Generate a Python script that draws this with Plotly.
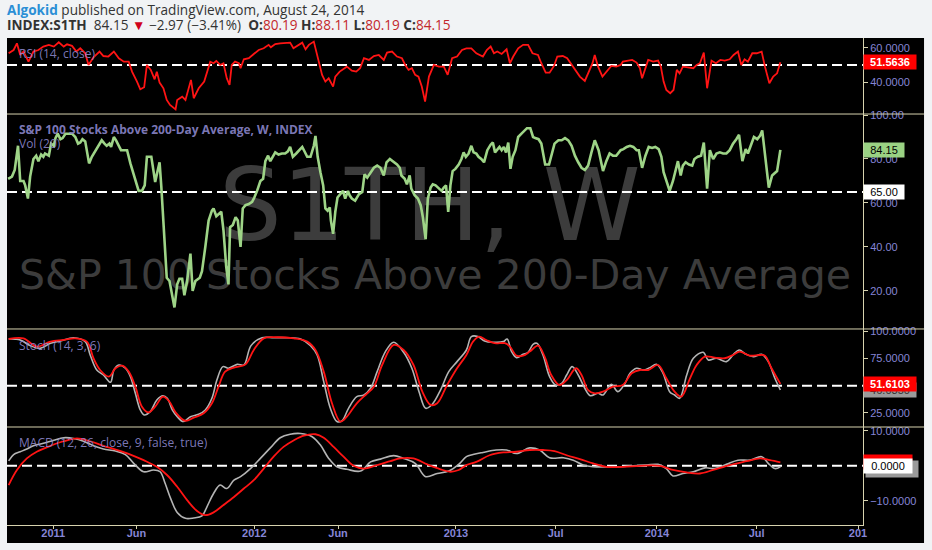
import pandas as pd
import plotly.graph_objects as go

# all x values are days counted from 2011-01-01 (weekly chart)
origin = pd.Timestamp("2011-01-01")

# S&P 100 stocks above 200-day average (S1TH, weekly)
main_days = [-82, -75, -70, -64, -60, -54, -51, -46, -42, -36, -31, -27, -22, -18, -15, -8, -4, 1, 4, 8,
             13, 17, 22, 28, 34, 40, 45, 49, 53, 58, 61, 65, 70, 75, 81, 88, 93, 97, 102, 105,
             110, 114, 119, 123, 130, 134, 140, 146, 151, 155, 161, 166, 170, 178, 182, 185, 188, 193, 196, 202,
             206, 211, 215, 220, 225, 229, 234, 238, 243, 249, 253, 258, 266,
             270, 276, 282, 288, 291, 296, 300, 305, 309, 314, 318, 321, 326, 331, 335, 340, 344, 349, 355, 361,
             365, 370, 376, 381, 385, 390, 394, 399, 403, 409, 415, 421, 426, 430, 435, 441, 447, 452, 456, 461,
             467, 473, 476, 480, 485, 490, 494, 498, 502, 504, 508, 512, 516, 521, 526, 530, 535, 538, 542, 548,
             555, 561, 565, 570, 576, 582, 588, 594, 600, 605, 611, 617, 624, 629,
             632, 638, 642, 647, 650, 656, 662, 667, 671, 676, 680, 685, 689, 694, 699, 705, 709, 713, 717, 721,
             725, 730, 736, 741, 745, 749, 754, 759, 763, 768, 772, 777, 782, 788, 794, 798, 802, 806, 810, 814,
             818, 822, 826, 830, 834, 839, 844, 850, 856, 860, 866, 871, 875, 881, 886, 890, 893, 900, 904, 910,
             917, 923, 929, 935, 941, 947, 953, 959, 965, 971, 977, 983,
             990, 998, 1004, 1010, 1016, 1022, 1030, 1035, 1041, 1047, 1053, 1059, 1063, 1069, 1075, 1081, 1087,
             1093, 1099, 1104, 1108, 1113, 1119, 1125, 1130, 1134, 1139, 1143, 1148, 1154, 1160, 1164, 1170, 1176,
             1181, 1187, 1192, 1198, 1204, 1210, 1216, 1222, 1228, 1234, 1240, 1245, 1251, 1257, 1261, 1266, 1272,
             1278, 1283, 1287, 1293, 1299, 1305, 1314, 1320]
main_vals = [71, 72, 75, 86, 70, 70, 68, 62, 72, 80, 81.5, 79, 82, 81, 82.5, 81.5, 87, 86, 89.5, 91.5,
             89, 89.5, 91.5, 91.5, 91.5, 90, 87, 87.5, 89, 88, 84, 78, 81, 83, 85.5, 88.5, 87, 86, 87, 85.5,
             90, 88.5, 86, 84, 84, 84, 78, 73, 69.5, 65.5, 65.5, 68, 81, 81, 74.5, 69.5, 73, 78.5, 68, 43,
             26, 24.5, 18.5, 12.5, 23, 25.5, 25.5, 18, 24.5, 37, 20, 24.5, 26,
             29, 40, 52, 56.5, 57.5, 54, 55, 56, 47.5, 31, 23, 49, 50, 53.5, 52, 40, 57.5, 59, 59.5, 60.5,
             62.5, 65.5, 70, 71, 79, 81.5, 79, 81.5, 83, 82, 82.5, 82.5, 83.5, 85.5, 81, 82.5, 84, 85.5, 83.5, 81,
             81, 86, 90.5, 81, 74, 68, 57.5, 56.5, 58, 52, 46, 56, 62.5, 64, 65.5, 62, 65.5, 63.5, 62, 61,
             64, 65, 73, 71.5, 74, 76, 77, 76, 72.5, 78.5, 80, 79, 77.5, 76,
             72.5, 71, 68.5, 72.5, 66.5, 63.5, 62, 59, 53.5, 43.5, 62, 67, 68.5, 68, 67, 65.5, 67, 68, 56, 68,
             74.5, 75.5, 77.5, 80, 83, 81, 82.5, 86, 83, 82.5, 81, 80, 78.5, 84, 86.5, 87.5, 83, 84.5, 85.5, 84,
             85.5, 83, 87.5, 75.5, 81, 84, 90, 91.5, 93, 94, 94, 90, 89.5, 89, 87, 81, 77.5, 77.5, 81.5, 87,
             88.5, 88.5, 89.5, 88.5, 86, 81.5, 78.5, 76, 75, 77, 83, 88.5,
             84, 74.5, 79, 82.5, 81.5, 81.5, 84, 84.5, 85.5, 86, 85.5, 84, 84, 76, 81.5, 85.5, 85,
             85.5, 84.5, 81, 74, 70, 65.5, 70, 75.5, 79, 72.5, 77, 78.5, 77.5, 77, 80, 81, 81.5,
             87.5, 66.5, 84, 80, 82.5, 83, 82.5, 82.5, 84, 87, 89, 91, 79, 84.5, 82.5, 86, 90,
             89, 90.5, 93, 79, 67, 72.5, 74.5, 84.15]

# RSI (14, close)
rsi_days = [-81, -72, -66, -60, -54, -45, -36, -27, -18, -8, 1, 10, 19, 25, 34, 42, 49, 58, 64, 73,
            84, 91, 100, 110, 119, 128, 137, 143, 152, 158, 165, 170, 177, 184, 188, 193, 200, 206, 212, 222,
            225, 234, 240, 250, 255, 264, 274, 280, 285, 291, 296, 303, 309, 315, 320, 324, 330, 337, 340, 346,
            355, 364, 373, 382, 391, 395, 403, 412, 421, 430, 436, 446, 452, 458, 464, 473, 478, 482, 488, 494,
            500, 508, 512, 520, 527, 533, 542, 550, 557, 564, 573, 582, 591, 600, 606, 615, 624, 633, 639, 645,
            651, 657, 663, 669, 675, 682, 691, 700, 709, 716, 724, 733, 742, 750,
            759, 768, 780, 787, 794, 800, 806, 814, 823, 829, 835, 844, 853, 862, 870, 880, 886, 894, 901, 909,
            915, 925, 933, 939, 947, 956, 965, 973, 979, 983, 989, 997, 1004, 1013, 1022, 1030, 1034, 1044, 1051,
            1059, 1065, 1069, 1074, 1080, 1089, 1098, 1103, 1108, 1113, 1120, 1126, 1132, 1137, 1143, 1152, 1162,
            1168, 1174, 1181, 1187, 1195, 1203, 1211, 1219, 1228, 1235, 1243, 1249, 1255, 1261, 1269, 1277, 1286,
            1292, 1300, 1307, 1314, 1320]
rsi_vals = [56.8, 58.7, 62.6, 55.8, 57.8, 51.9, 57.8, 58.7, 60.7, 61.7, 60.7, 63.2, 60.7, 62, 61.1, 57.8, 59.7, 56.8, 50, 54.5,
            57.8, 55.2, 54.9, 57.8, 53.9, 51.9, 51.9, 46.1, 40.3, 35.8, 37, 50, 47.1, 41.6, 46.1, 39.7, 36.4, 29.6, 26.7, 24.1,
            29.6, 31.5, 29.6, 41.3, 30.6, 36.4, 40.3, 47.1, 51.9, 51, 52.3, 50, 51, 42.2, 38.3, 50, 51.9, 51, 48.1, 53.3,
            53.9, 56.4, 58.7, 59.7, 61.7, 60.3, 62.2, 62.6, 62.6, 63, 59.7, 61.7, 63, 59.1, 61.7, 63.6, 56.8, 51, 44.2, 40.3,
            42.2, 37.4, 43.2, 46.1, 47.5, 49, 46.7, 46.1, 48.1, 53.9, 52.9, 55.2, 55.8, 52.9, 57.2, 57.8, 54.9, 53.9, 50, 47.1,
            48.1, 44.2, 43.2, 37.4, 28.6, 43.2, 50, 49, 49, 44.2, 53.9, 54.9, 58.7, 59.7,
            59.7, 56.8, 54.9, 58.7, 60.7, 56.8, 57.8, 56.4, 59.1, 51, 54.9, 59.7, 61.7, 61.7, 56.8, 55.8, 51, 45.5, 45.5, 49.4,
            54.9, 55.2, 53.9, 51, 47.1, 43.2, 40.7, 46.1, 51, 55.8, 49, 43.2, 46.1, 49.4, 49, 50, 51.9, 52.5, 52.9,
            51.4, 48.1, 42.2, 47.1, 52.9, 51.9, 52.5, 49, 40.3, 35.4, 33.5, 35.4, 47.1, 45.1, 49, 48.6, 48.1,
            50, 51, 57.2, 36.4, 52.5, 51, 52.9, 52.5, 53.3, 55.8, 57.8, 50, 53.3, 51.9, 56.8, 56.8, 57.8,
            49, 39.3, 43.2, 45.1, 51.5636]

# Stoch (14, 3, 6): %K (grey) and %D (red)
stoch_k_days = [-81, -60, -42, -24, -5, 13, 37, 58, 67, 79, 91, 104, 110, 119, 131, 140, 149, 158, 165, 176,
                188, 199, 207, 216, 225, 236, 249, 264, 276, 288, 297, 308, 318, 334, 346, 359, 379, 400, 424, 449,
                467, 479, 491, 503, 515, 524, 536, 551, 564, 576, 588, 603, 618, 636, 651, 664, 676, 688, 703, 718,
                733, 750, 759, 771, 783, 798, 817, 824, 832, 841, 853, 862, 871, 878, 889, 901, 912, 923, 932, 942,
                953, 965, 975, 989, 998, 1013, 1025, 1038, 1047, 1059, 1071, 1083, 1095, 1107, 1119, 1128, 1137,
                1150, 1162, 1180, 1189, 1204, 1222, 1234, 1245, 1258, 1271, 1286, 1298, 1310, 1320]
stoch_k_vals = [92.9, 92, 86.8, 84.3, 88.9, 91.1, 94.1, 90.5, 78.2, 64.4, 59.8, 53.1, 64.4, 69, 66, 58.3, 43, 27.7, 23.1, 26.1,
                36.9, 40.8, 38.4, 27.7, 21.5, 17, 21.5, 23.7, 27.7, 38.4, 55.2, 67.5, 66, 69.6, 69, 86.8, 94.1, 94.1, 94.1, 92.9,
                86.8, 78.2, 53.7, 29.2, 17, 17.6, 29.2, 39.9, 41.4, 47.6, 62.9, 81.3, 89.9, 80.7, 66, 44.5, 29.2, 32.9, 46, 62.9,
                72.1, 82.8, 95.1, 95.1, 91.1, 89.9, 90.5, 92.9, 81.3, 75.8, 78.8, 80.7, 88, 88.9, 78.2, 58.3, 50.6, 52.2, 59.8, 67.5,
                59.8, 47.6, 40.8, 43, 41.4, 51.3, 44.5, 52.2, 61.4, 66, 64.4, 66.6, 69.6, 61.4, 44.5, 41.4, 38.4,
                59.8, 75.2, 80.7, 73.6, 75.2, 72.1, 78.2, 82.8, 78.8, 76.7, 78.8, 72.1, 56.8, 46.035]
stoch_d_days = [-81, -54, -30, -5, 19, 40, 61, 73, 85, 101, 113, 125, 137, 149, 161, 173, 185, 199, 210, 222,
                240, 255, 273, 288, 300, 312, 328, 349, 364, 382, 406, 437, 461, 476, 491, 506, 521, 533, 551, 570,
                582, 597, 618, 636, 654, 670, 685, 697, 715, 733, 750, 762, 773, 786, 801, 820, 829, 841, 853, 865,
                880, 892, 904, 919, 932, 949, 959, 971, 983, 998, 1016, 1034, 1050, 1065, 1080, 1098, 1113, 1128,
                1140, 1156, 1168, 1183, 1201, 1219, 1234, 1246, 1264, 1283, 1292, 1304, 1320]
stoch_d_vals = [92.9, 93.5, 85.9, 90.5, 92, 93.5, 90.5, 75.2, 64.4, 58.3, 66, 68.4, 62.9, 49.1, 30.7, 25.5, 30.7, 39.9, 35.9, 25.5,
                17.6, 20.6, 24.6, 33.8, 49.1, 62.9, 66.6, 69.6, 82.8, 93.5, 94.5, 93.5, 90.5, 82.8, 62.9, 33.8, 17, 21.5, 33.8, 43,
                49.1, 69, 87.4, 82.8, 69, 44.5, 32.3, 33.8, 50.6, 66, 78.2, 90.5, 95.1, 92, 89, 89, 85.9, 77.6, 77.6, 81.3,
                86.8, 76.7, 59.8, 50.6, 55.2, 66, 59.8, 46, 43, 44.5, 49.1, 50.6, 61.4, 64.4, 64.4, 69, 56.8, 44.5,
                39.9, 56.8, 69, 76.7, 75.8, 75.2, 78.2, 81.3, 77.6, 78.2, 77.6, 66, 51.6103]

# MACD (12, 26, close, 9): macd line (grey) and signal (red)
macd_days = [-81, -72, -60, -48, -36, -18, 1, 19, 37, 55, 73, 91, 113, 131, 146, 164, 182, 194, 203, 213,
             225, 240, 255, 270, 279, 291, 303, 315, 328, 340, 358, 376, 394, 412, 430, 449, 470, 485, 500, 515,
             533, 558, 576, 594, 618, 636, 657, 676, 697, 718, 736, 750, 762, 780, 804, 823, 841, 865, 883, 901,
             926, 944, 962, 980, 998, 1022, 1053, 1077, 1098, 1113, 1125, 1143, 1162, 1183, 1201, 1222, 1243,
             1265, 1286, 1298, 1310, 1320]
macd_vals = [1.4, 3.2, 4, 4.8, 5.7, 6.4, 7.3, 8, 7.8, 7, 5.7, 4.8, 4.2, 3.2, 0.7, -1.7, -1.2, -1.7, -5, -9.3,
             -13.3, -15, -14.9, -14.3, -11.7, -7.9, -5.5, -6.5, -4.1, -3.1, -0.8, 2.1, 5.1, 8, 9, 9.2, 8.3, 5.9, 2.1, -0.3,
             -1, -1.5, 1.1, 1.9, 2.9, 2.1, 0.7, -3.1, -2.2, -1.5, 0.4, 2.6, 3.2, 3.8, 4.5, 4.5, 3.5, 5.1, 4.5, 2.3,
             2.3, 1.6, 0.2, -0.3, -0.3, -0.3, 0, 0.2, 0.4, -0.8, -2.9, -2.2, -1.7, -0.6, -0.8, 0.4, 1.6,
             1.6, 2.6, 0.7, -0.8, -0.3]
signal_days = [-81, -66, -48, -30, -5, 19, 43, 67, 91, 116, 140, 164, 188, 207, 225, 243, 261, 276, 291, 309,
               328, 346, 364, 382, 400, 418, 437, 455, 476, 491, 509, 527, 545, 564, 588, 612, 630, 654, 679, 703,
               721, 736, 750, 768, 792, 817, 841, 865, 889, 910, 932, 956, 980, 1004, 1035, 1065, 1101, 1125,
               1150, 1174, 1198, 1228, 1259, 1283, 1301, 1320]
signal_vals = [-5.5, -1.2, 2.1, 4, 5.7, 7, 7.8, 7, 5.7, 4.5, 3.2, 1.6, -0.3, -2.7, -6, -9.8, -12.9, -14.1, -13.3, -11.2,
               -8.9, -6.5, -4.1, -0.8, 2.6, 5.4, 7.3, 8.6, 9, 8, 5.4, 2.6, 0, -0.8, 0.2, 1.3, 2.1, 2.1, 0.4, -1,
               -1.7, -1.2, 0.2, 1.1, 3, 3.8, 4, 4.5, 4.5, 4.2, 3, 1.9, 0.7, -0.3, -0.3, 0, 0, -1.2,
               -1.9, -2.2, -1.2, 0.2, 1.3, 2.1, 1.6, 1]

# x axis ticks
tick_dates = ["2011-01-01", "2011-06-01", "2012-01-01", "2012-06-01", "2013-01-01",
              "2013-07-01", "2014-01-01", "2014-07-01", "2015-01-01"]
tick_text = ["2011", "Jun", "2012", "Jun", "2013", "Jul", "2014", "Jul", "201"]


def to_dates(days):
    return origin + pd.to_timedelta(days, unit="D")


beige = "#d6d2ae"
lav = "#8585d6"
axfont = dict(family="Liberation Sans, Arial", size=11, color=lav)

fig = go.Figure()

fig.add_trace(go.Scatter(x=to_dates(rsi_days), y=rsi_vals, mode="lines",
                         line=dict(color="#ff1414", width=1.8), yaxis="y"))
fig.add_trace(go.Scatter(x=to_dates(main_days), y=main_vals, mode="lines",
                         line=dict(color="#9ed487", width=2.6), yaxis="y2"))
fig.add_trace(go.Scatter(x=to_dates(stoch_k_days), y=stoch_k_vals, mode="lines", line_shape="spline",
                         line=dict(color="#b4b4b4", width=1.6), yaxis="y3"))
fig.add_trace(go.Scatter(x=to_dates(stoch_d_days), y=stoch_d_vals, mode="lines", line_shape="spline",
                         line=dict(color="#ff1414", width=1.8), yaxis="y3"))
fig.add_trace(go.Scatter(x=to_dates(macd_days), y=macd_vals, mode="lines", line_shape="spline",
                         line=dict(color="#b4b4b4", width=1.6), yaxis="y4"))
fig.add_trace(go.Scatter(x=to_dates(signal_days), y=signal_vals, mode="lines", line_shape="spline",
                         line=dict(color="#ff1414", width=1.8), yaxis="y4"))


def yax(domain, rng, dtick, fmt):
    return dict(domain=domain, range=rng, dtick=dtick, tick0=0, tickformat=fmt, anchor="x", side="right",
                showgrid=False, zeroline=False, showline=True, linecolor=beige, linewidth=1,
                ticks="outside", ticklen=4, tickcolor=beige, tickfont=axfont, fixedrange=True)


fig.update_layout(
    width=932, height=550,
    margin=dict(l=7, r=69, t=38, b=25),
    paper_bgcolor="#f1f3f5",
    plot_bgcolor="rgba(0,0,0,0)",
    showlegend=False,
    xaxis=dict(domain=[0, 1], anchor="y4", type="date", range=["2010-10-09", "2015-01-10"],
               tickvals=tick_dates, ticktext=tick_text, showgrid=False, zeroline=False,
               showline=True, linecolor=beige, ticks="outside", ticklen=3, tickcolor=beige,
               ticklabelstandoff=-5,
               tickfont=dict(family="Liberation Sans, Arial", size=11, color=lav, weight="bold")),
    yaxis=yax([0.8439, 1], [21.4, 65.7], 20, ".4f"),
    yaxis2=yax([0.4025, 0.8439], [2.7, 100.45], 20, ".2f"),
    yaxis3=yax([0.2012, 0.4025], [12, 102.1], 25, ".4f"),
    yaxis4=yax([0, 0.2012], [-16.9, 11.06], 10, ".4f"),
)

# black chart box, behind everything
shapes = [dict(type="rect", xref="paper", yref="paper", x0=0, x1=1.0713, y0=-0.037, y1=1,
               fillcolor="black", line=dict(width=0), layer="below")]

# big watermark symbol text
shapes.append(dict(type="rect", xref="paper", yref="paper", x0=0, x1=0.988, y0=0.57, y1=0.77,
                   line=dict(width=0), fillcolor="rgba(0,0,0,0)", layer="below",
                   label=dict(text="S1TH, W", textposition="middle center",
                              font=dict(family="DejaVu Sans", size=99, color="#3c3c3c"))))
shapes.append(dict(type="rect", xref="paper", yref="paper", x0=0, x1=1, y0=0.47, y1=0.57,
                   line=dict(width=0), fillcolor="rgba(0,0,0,0)", layer="below",
                   label=dict(text="S&P 100 Stocks Above 200-Day Average", textposition="middle center",
                              font=dict(family="DejaVu Sans", size=41, color="#3c3c3c"))))

# dashed level lines
for ax, lvl in [("y", 50), ("y2", 65), ("y3", 50), ("y4", 0)]:
    shapes.append(dict(type="line", xref="paper", yref=ax, x0=0, x1=1, y0=lvl, y1=lvl,
                       line=dict(color="white", width=2, dash="10px,5px"), layer="below"))

# panel separators
for yy in [0.8439, 0.4025, 0.2012]:
    shapes.append(dict(type="line", xref="paper", yref="paper", x0=0, x1=1.0713, y0=yy, y1=yy,
                       line=dict(color=beige, width=1)))
fig.update_layout(shapes=shapes)

ann = []
hdr = dict(xref="paper", yref="paper", x=0, xshift=-2, xanchor="left", yanchor="middle", showarrow=False,
           font=dict(family="Open Sans", size=13.6, color="#333333"))
ann.append(dict(hdr, y=1.0575,
                text="<b><span style='color:#2b8fd6'>Algokid</span></b> published on TradingView.com, August 24, 2014"))
red = "#c3272b"
ann.append(dict(hdr, y=1.0285,
                text=("<b>INDEX:S1TH</b>  84.15 <span style='color:#d0021b'>▼</span> −2.97 (−3.41%)  "
                      f"<b>O:</b><span style='color:{red}'>80.19</span> "
                      f"<b>H:</b><span style='color:{red}'>88.11</span> "
                      f"<b>L:</b><span style='color:{red}'>80.19</span> "
                      f"<b>C:</b><span style='color:{red}'>84.15</span>")))

# indicator names, top left of each pane
lab = dict(xref="paper", yref="paper", x=0.0117, xanchor="left", yanchor="middle", showarrow=False,
           font=dict(family="Open Sans", size=12, color="rgba(140,135,205,0.9)"))
ann.append(dict(lab, y=0.969, text="RSI (14, close)"))
ann.append(dict(lab, y=0.813, text="<b>S&P 100 Stocks Above 200-Day Average, W, INDEX</b>"))
ann.append(dict(lab, y=0.784, text="Vol (20)"))
ann.append(dict(lab, y=0.3696, text="Stoch (14, 3, 6)"))
ann.append(dict(lab, y=0.1704, text="MACD (12, 26, close, 9, false, true)"))

# value tags on the price scale
tag = dict(xref="paper", x=1.0, xanchor="left", yanchor="middle", showarrow=False, borderpad=1,
           align="center", font=dict(family="Liberation Sans, Arial", size=11))
ann.append(dict(tag, yref="y", y=rsi_vals[-1], text=f"<b>{rsi_vals[-1]:.4f}</b>", width=50,
                bgcolor="#ff0000", font=dict(tag["font"], color="white")))
ann.append(dict(tag, yref="y2", y=main_vals[-1], text=f"{main_vals[-1]:.2f}", width=38,
                bgcolor="#9ad283", font=dict(tag["font"], color="black")))
ann.append(dict(tag, yref="y2", y=65, text="65.00", width=38,
                bgcolor="white", font=dict(tag["font"], color="black")))
ann.append(dict(tag, yref="y3", y=stoch_k_vals[-1], text=f"{stoch_k_vals[-1]:.4f}", width=50,
                bgcolor="#9a9a9a", font=dict(tag["font"], color="#333333")))
ann.append(dict(tag, yref="y3", y=stoch_d_vals[-1], text=f"<b>{stoch_d_vals[-1]:.4f}</b>", width=50,
                bgcolor="#ff0000", font=dict(tag["font"], color="white")))
ann.append(dict(tag, yref="y4", y=signal_vals[-1], text=f"{signal_vals[-1]:.4f}", width=46,
                bgcolor="#ff0000", font=dict(tag["font"], color="#ff0000")))
ann.append(dict(tag, yref="y4", y=macd_vals[-1], text="", width=50, height=14, yshift=-2, xshift=2,
                bgcolor="#9a9a9a"))
ann.append(dict(tag, yref="y4", y=0, text="0.0000", width=46,
                bgcolor="white", font=dict(tag["font"], color="black")))
fig.update_layout(annotations=ann)

# the page body has a default 8px margin; drop it so the chart sits at the top-left corner
fig.write_html("out.html", config={"displayModeBar": False},
               post_script="document.body.style.margin='0px';")
